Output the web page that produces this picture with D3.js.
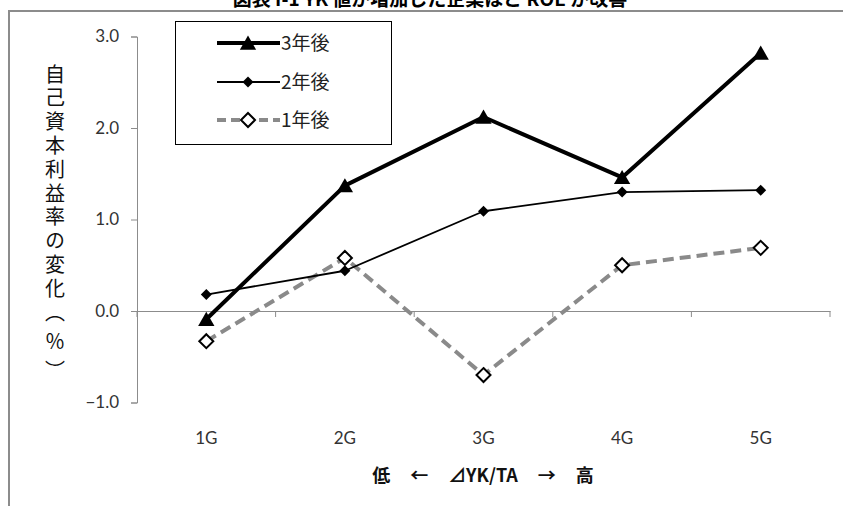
<!DOCTYPE html>
<html><head><meta charset="utf-8">
<script src="https://cdn.jsdelivr.net/npm/d3@7"></script>
<style>
html,body{margin:0;padding:0;background:#fff;}
svg{display:block;}
</style></head>
<body>
<svg id="c" width="843" height="506"></svg>
<script>
const categories = ["1G","2G","3G","4G","5G"];
const seriesNames = ["3年後","2年後","1年後"];
const year3 = [-0.09, 1.37, 2.12, 1.46, 2.82];
const year2 = [0.18, 0.44, 1.09, 1.30, 1.32];
const year1 = [-0.33, 0.58, -0.70, 0.50, 0.69];
const yTicks = [-1, 0, 1, 2, 3];
const titleText = "図表 I-1 YK 値が増加した企業ほど ROE が改善";
const yTitleMain = "自己資本利益率の変化";
const yTitleUnit = "（％）";
const xTitleParts = ["低", "←", "⊿YK/TA", "→", "高"];

const latin = "Lato, 'Open Sans', 'Noto Sans CJK JP', sans-serif";
const cjk = "'Noto Sans CJK JP', sans-serif";

const svg = d3.select("#c");

// title (cut off at top, as in the reference)
svg.append("text").attr("x", 430).attr("y", 6).attr("text-anchor","middle")
  .attr("font-family", cjk).attr("font-weight","bold").attr("font-size",19)
  .attr("fill","#000").text(titleText);

// outer frame
svg.append("rect").attr("x",9).attr("y",11).attr("width",900).attr("height",600)
  .attr("fill","none").attr("stroke","#8c8c8c").attr("stroke-width",2);

const x = d3.scaleBand().domain(categories).range([137, 830]);
const y = d3.scaleLinear().domain([-1, 3]).range([402.5, 36.5]);
const cx = d => x(d) + x.bandwidth()/2;

// y axis
const yAxis = svg.append("g").attr("transform","translate(137,0)")
  .call(d3.axisLeft(y).tickValues(yTicks).tickSize(6).tickPadding(12).tickFormat(d3.format(".1f")));
yAxis.select(".domain").attr("stroke","#8c8c8c");
yAxis.selectAll(".tick line").attr("stroke","#8c8c8c");
yAxis.selectAll(".tick text").attr("font-family", latin).attr("font-size",17).attr("fill","#333");

// x axis at zero
const xAxis = svg.append("g").attr("transform",`translate(0,${y(0)})`)
  .call(d3.axisBottom(x).tickSize(0).tickFormat(""));
xAxis.select(".domain").attr("stroke","#8c8c8c");
xAxis.selectAll(".tick").remove();
const bounds = categories.map(c => x(c)).concat([x.range()[1]]);
svg.append("g").selectAll("line").data(bounds).join("line")
  .attr("x1", d=>d).attr("x2", d=>d).attr("y1", y(0)).attr("y2", y(0)+6)
  .attr("stroke","#8c8c8c");

// category labels
svg.append("g").selectAll("text").data(categories).join("text")
  .attr("x", d=>cx(d)).attr("y", 444).attr("text-anchor","middle")
  .attr("font-family", latin).attr("font-size",17).attr("fill","#333").text(d=>d);

// x title, spaced as in the reference
const xt = svg.append("text").attr("x", 483).attr("y", 482).attr("text-anchor","middle")
  .attr("font-family", cjk).attr("font-weight","bold").attr("font-size",18).attr("fill","#111");
xTitleParts.forEach((p,i) => {
  xt.append("tspan").attr("dx", i === 0 ? 0 : 20).text(p);
});

// y title (vertical)
const yt = svg.append("text").attr("x", 55).attr("y", 64)
  .style("writing-mode","vertical-rl").attr("font-family", cjk).attr("font-size",20)
  .attr("fill","#111");
yt.append("tspan").attr("letter-spacing", 3.8).text(yTitleMain);
yt.append("tspan").attr("letter-spacing", 9).text(yTitleUnit);

const line = d3.line().x((d,i)=>cx(categories[i])).y(d=>y(d));

const tri = d3.symbol().type(d3.symbolTriangle).size(115);
const sq = (r) => `M0,${-r}L${r},0L0,${r}L${-r},0Z`;

const styles = [
  {data: year3, stroke:"#000", width:4, dash:null, sym:tri(), fill:"#000", mstroke:"none", mw:0, dy:2},
  {data: year2, stroke:"#000", width:1.8, dash:null, sym:sq(5.5), fill:"#000", mstroke:"none", mw:0, dy:0},
  {data: year1, stroke:"#8a8a8a", width:4, dash:"11,6", sym:sq(7), fill:"#fff", mstroke:"#000", mw:2, dy:0}
];

[2,1,0].forEach(k => {
  const s = styles[k];
  svg.append("path").datum(s.data).attr("d", line).attr("fill","none")
    .attr("stroke", s.stroke).attr("stroke-width", s.width)
    .attr("stroke-dasharray", s.dash).attr("stroke-linejoin","round");
  svg.append("g").selectAll("path").data(s.data).join("path")
    .attr("d", s.sym).attr("transform",(d,i)=>`translate(${cx(categories[i])},${y(d)+s.dy})`)
    .attr("fill", s.fill).attr("stroke", s.mstroke).attr("stroke-width", s.mw);
});

// legend
const lg = svg.append("g");
lg.append("rect").attr("x",175.5).attr("y",21.5).attr("width",216).attr("height",123)
  .attr("fill","#fff").attr("stroke","#000").attr("stroke-width",1);
const ly = [43, 82, 120];
styles.forEach((s,i) => {
  lg.append("line").attr("x1",217).attr("x2",280).attr("y1",ly[i]).attr("y2",ly[i])
    .attr("stroke", s.stroke).attr("stroke-width", s.width).attr("stroke-dasharray", s.dash ? "9,5" : null);
  lg.append("path").attr("d", s.sym).attr("transform",`translate(248,${ly[i]+s.dy})`)
    .attr("fill", s.fill).attr("stroke", s.mstroke).attr("stroke-width", s.mw);
  lg.append("text").attr("x",281).attr("y",ly[i]+7).attr("font-family", cjk)
    .attr("font-size",19).attr("fill","#222").text(seriesNames[i]);
});
</script>
</body></html>
